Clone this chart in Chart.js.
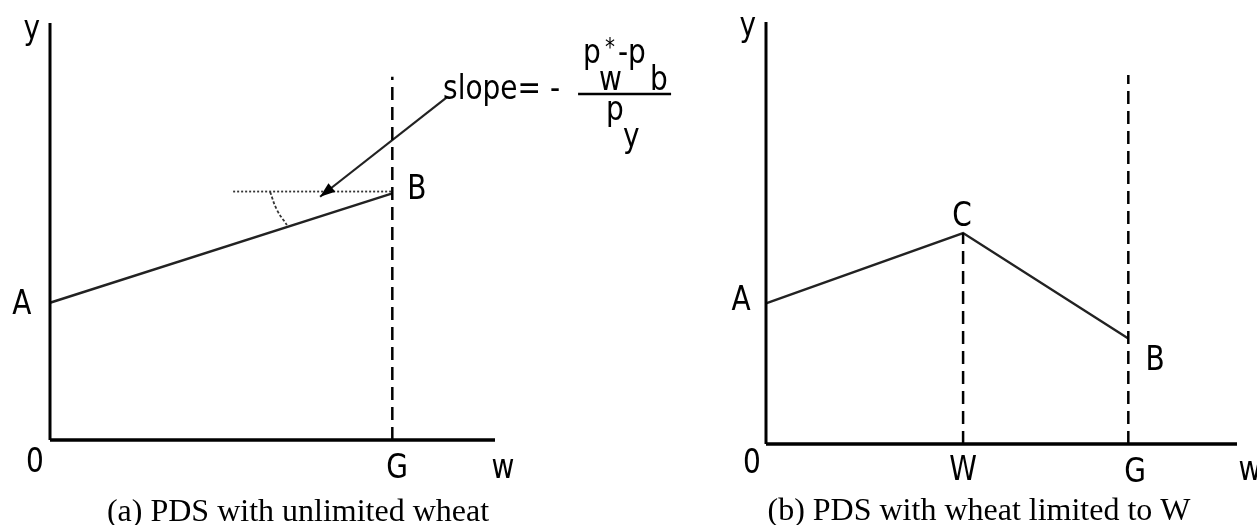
<!DOCTYPE html>
<html>
<head>
<meta charset="utf-8">
<script src="https://cdn.jsdelivr.net/npm/chart.js@4"></script>
<style>
html, body { margin: 0; padding: 0; background: #fff; }
#wrap { position: relative; width: 1257px; height: 525px; overflow: hidden; }
canvas { position: absolute; top: 0; }
#cA { left: 0; }
#cB { left: 628px; }
</style>
</head>
<body>
<div id="wrap">
  <canvas id="cA" width="720" height="525"></canvas>
  <canvas id="cB" width="629" height="525"></canvas>
</div>
<script>
// axis extent (data units, both panels)
const wMax = 13, yMax = 12;

// (a) PDS with unlimited wheat
const aLineW = [0, 10], aLineY = [3.95, 7.1];          // A -> B
const aGuideW = [10, 10], aGuideY = [0, 10.45];        // dashed at G
const aFlatW = [5.35, 10], aFlatY = [7.15, 7.15];      // dotted horizontal
const aArcW = [6.43, 6.63, 6.92], aArcY = [7.14, 6.62, 6.19];
const aArrowW = [11.6, 7.89], aArrowY = [9.87, 7.0];
const aLabels = ['y', 'A', '0', 'G', 'w', 'B'];
const aLabelW = [-0.53, -0.82, -0.44, 10.14, 13.23, 10.72];
const aLabelY = [11.55, 3.63, -0.92, -1.09, -1.09, 6.94];
const aCaption = '(a) PDS with unlimited wheat';

// (b) PDS with wheat limited to W
const bLineW = [0, 5.44, 10], bLineY = [4, 6, 3];       // A -> C -> B
const bGuideW1 = [5.44, 5.44], bGuideY1 = [0, 6];       // dashed at W
const bGuideW2 = [10, 10], bGuideY2 = [0, 10.49];       // dashed at G
const bLabels = ['y', 'A', 'C', 'B', '0', 'W', 'G', 'w'];
const bLabelW = [-0.5, -0.69, 5.41, 10.74, -0.39, 5.44, 10.19, 13.36];
const bLabelY = [11.6, 3.81, 6.2, 2.1, -0.82, -1.02, -1.08, -1.02];
const bCaption = '(b) PDS with wheat limited to W';

const pts = (xs, ys) => xs.map((v, i) => ({ x: v, y: ys[i] }));
const seg = (xs, ys, style) => Object.assign({
  data: pts(xs, ys), showLine: true, pointRadius: 0, clip: false, fill: false, tension: 0
}, style);

const axisStyle = { borderColor: '#000', borderWidth: 3.5 };
const dashStyle = { borderColor: '#000', borderWidth: 2.5, borderDash: [13, 7] };
const curveStyle = { borderColor: '#222', borderWidth: 2.4 };

function say(ctx, txt, px, py, align, size) {
  ctx.save();
  ctx.translate(px, py);
  ctx.scale(1, 1.2);
  ctx.font = size + 'px "DejaVu Sans"';
  ctx.textAlign = align;
  ctx.textBaseline = 'alphabetic';
  ctx.fillText(txt, 0, 0);
  ctx.restore();
}

const diagram = {
  id: 'diagram',
  afterDatasetsDraw(chart, args, o) {
    const ctx = chart.ctx, sx = chart.scales.x, sy = chart.scales.y;
    ctx.save();
    ctx.fillStyle = '#000';
    ctx.strokeStyle = '#000';
    o.labels.forEach((t, i) => say(ctx, t, sx.getPixelForValue(o.lw[i]), sy.getPixelForValue(o.ly[i]), 'center', 28));

    if (o.arrowSet != null) {
      const p = chart.getDatasetMeta(o.arrowSet).data;
      const a = p[p.length - 2], b = p[p.length - 1];
      const ang = Math.atan2(b.y - a.y, b.x - a.x);
      ctx.save();
      ctx.translate(b.x, b.y);
      ctx.rotate(ang);
      ctx.beginPath();
      ctx.moveTo(0, 0);
      ctx.lineTo(-15, -5.5);
      ctx.lineTo(-15, 5.5);
      ctx.closePath();
      ctx.fill();
      ctx.restore();

      // slope = -(p*w - pb)/py, anchored at the arrow tail
      const x0 = a.x - 4, y0 = a.y + 2;
      say(ctx, 'slope= -', x0, y0, 'left', 28);
      say(ctx, 'p', x0 + 140, y0 - 36, 'left', 28);
      say(ctx, '*', x0 + 162, y0 - 44, 'left', 20);
      say(ctx, '-', x0 + 175, y0 - 36, 'left', 28);
      say(ctx, 'p', x0 + 185, y0 - 36, 'left', 28);
      say(ctx, 'w', x0 + 156, y0 - 9, 'left', 28);
      say(ctx, 'b', x0 + 207, y0 - 9, 'left', 28);
      ctx.lineWidth = 2.5;
      ctx.beginPath();
      ctx.moveTo(x0 + 135, y0 - 5);
      ctx.lineTo(x0 + 228, y0 - 5);
      ctx.stroke();
      say(ctx, 'p', x0 + 163, y0 + 21, 'left', 28);
      say(ctx, 'y', x0 + 180, y0 + 48, 'left', 28);
    }

    ctx.font = '32px "Liberation Serif"';
    ctx.textAlign = 'center';
    ctx.textBaseline = 'alphabetic';
    ctx.fillText(o.caption, o.capX, o.capY);
    ctx.restore();
  }
};

function baseOptions(pad, extra) {
  return {
    responsive: false,
    animation: false,
    devicePixelRatio: 1,
    layout: { padding: pad },
    scales: {
      x: { type: 'linear', min: 0, max: wMax, display: false },
      y: { type: 'linear', min: 0, max: yMax, display: false }
    },
    plugins: { legend: { display: false }, tooltip: { enabled: false }, diagram: extra }
  };
}

new Chart(document.getElementById('cA'), {
  type: 'scatter',
  data: {
    datasets: [
      seg([0, wMax], [0, 0], axisStyle),
      seg([0, 0], [0, yMax], Object.assign({}, axisStyle, { borderWidth: 3 })),
      seg(aGuideW, aGuideY, dashStyle),
      seg(aFlatW, aFlatY, { borderColor: '#333', borderWidth: 1.8, borderDash: [2, 2] }),
      seg(aArcW, aArcY, { borderColor: '#333', borderWidth: 1.8, borderDash: [3, 2], tension: 0.4 }),
      seg(aLineW, aLineY, curveStyle),
      seg(aArrowW, aArrowY, { borderColor: '#222', borderWidth: 2.2 })
    ]
  },
  options: baseOptions({ left: 50, top: 23, right: 225, bottom: 85 }, {
    labels: aLabels, lw: aLabelW, ly: aLabelY, arrowSet: 6,
    caption: aCaption, capX: 298, capY: 521
  }),
  plugins: [diagram]
});

new Chart(document.getElementById('cB'), {
  type: 'scatter',
  data: {
    datasets: [
      seg([0, wMax], [0, 0], axisStyle),
      seg([0, 0], [0, yMax], Object.assign({}, axisStyle, { borderWidth: 3 })),
      seg(bGuideW1, bGuideY1, dashStyle),
      seg(bGuideW2, bGuideY2, dashStyle),
      seg(bLineW, bLineY, curveStyle)
    ]
  },
  options: baseOptions({ left: 138, top: 22, right: 20, bottom: 81 }, {
    labels: bLabels, lw: bLabelW, ly: bLabelY, arrowSet: null,
    caption: bCaption, capX: 351, capY: 520
  }),
  plugins: [diagram]
});
</script>
</body>
</html>
